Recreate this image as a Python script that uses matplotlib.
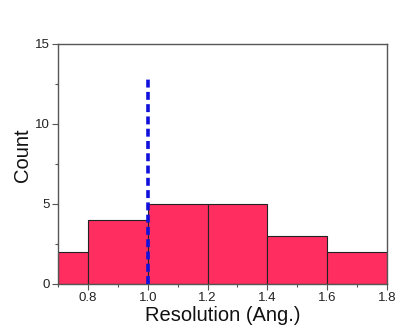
import numpy as np
import matplotlib
matplotlib.use('Agg')
import matplotlib.pyplot as plt
from matplotlib.ticker import MultipleLocator

plt.rcParams['font.family'] = ['Liberation Sans', 'DejaVu Sans']

# histogram data
bin_edges = [0.7, 0.8, 1.0, 1.2, 1.4, 1.6, 1.8]
counts = [2, 4, 5, 5, 3, 2]
cutoff_x = 1.0
cutoff_top = 12.8

fig = plt.figure(figsize=(3.98, 3.29), dpi=100)
ax = fig.add_axes([0.1457, 0.1368, 0.8267, 0.7295])

edges = np.array(bin_edges)
ax.bar(edges[:-1], counts, width=np.diff(edges), align='edge',
       color='#ff2d60', edgecolor='#222222', linewidth=0.8, zorder=2)

ax.plot([cutoff_x, cutoff_x], [0, cutoff_top], color='#1010dd',
        linestyle=(0, (2.2, 1.2)), linewidth=2.6, zorder=3)

ax.set_xlim(0.7, 1.8)
ax.set_ylim(0, 15)
ax.xaxis.set_minor_locator(MultipleLocator(0.1))
ax.yaxis.set_major_locator(MultipleLocator(5))
ax.yaxis.set_minor_locator(MultipleLocator(2.5))
ax.set_xticks([0.8, 1.0, 1.2, 1.4, 1.6, 1.8])
ax.set_xticklabels(['0.8', '1.0', '1.2', '1.4', '1.6', '1.8'])

for s in ax.spines.values():
    s.set_color('#555555')
    s.set_linewidth(1.0)

ax.tick_params(which='major', direction='out', length=4, width=0.8,
               color='#555555', labelsize=9.5, labelcolor='#222222', pad=2)
ax.tick_params(which='minor', direction='out', length=2.5, width=0.8,
               color='#555555')

ax.set_xlabel('Resolution (Ang.)', fontsize=14.5, labelpad=1, color='#111111')
ax.set_ylabel('Count', fontsize=14.5, color='#111111')
ax.yaxis.set_label_coords(-0.079, 0.5375)

fig.savefig('out.png', dpi=100)
